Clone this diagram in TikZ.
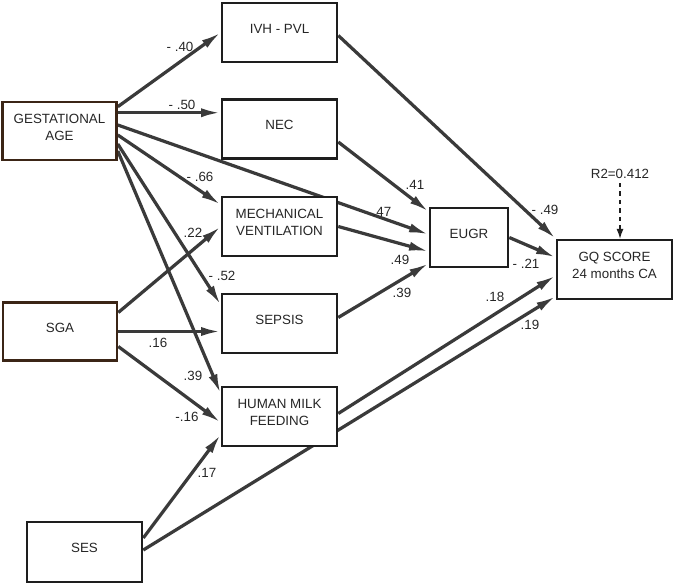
\documentclass[tikz,border=0pt]{standalone}
\usepackage{fontspec}
\setmainfont{Liberation Sans}
\usetikzlibrary{arrows.meta,
        calc,
        backgrounds}
\definecolor{boxline}{HTML}{1E1E1E}
\definecolor{brownline}{HTML}{3B2516}
\definecolor{edgegray}{HTML}{3A3A3A}
\definecolor{textdark}{HTML}{262626}

\begin{document}
\begin{tikzpicture}[x=0.025cm,y=-0.025cm,font=\fontsize{9.5}{12}\selectfont,
    box/.style={draw=boxline,line width=1.8pt,fill=white,text=textdark,align=center,
        minimum width=2.875cm,minimum height=1.475cm,
        execute at end node={\rule[-5.5pt]{0pt}{5.5pt}}},
    brownbox/.style={box,draw=brownline},
    arr/.style={draw=edgegray,line width=2.3pt,-{Latex[length=14pt,width=6.5pt]}},
    lbl/.style={inner sep=0pt,text=textdark}]
            \useasboundingbox (0,0) rectangle (675,585);
            % variables
            \node [brownbox,minimum width=2.85cm,minimum height=1.45cm] (ga) at (59.5,131) {GESTATIONAL\\AGE};
            \node [brownbox,minimum width=2.85cm,minimum height=1.45cm] (sga) at (60,331.5) {SGA};
            \node [box,minimum height=1.5cm] (ses) at (84.5,552) {SES};
            \node [box] (ivh) at (279.5,32.5) {IVH - PVL};
            \node [box] (nec) at (279.5,129) {NEC};
            \node [box] (mv) at (279.5,226.5) {MECHANICAL\\VENTILATION};
            \node [box] (sep) at (279.5,323.5) {SEPSIS};
            \node [box] (hmf) at (279.5,416.5) {HUMAN MILK\\FEEDING};
            \node [box,minimum width=1.95cm] (eugr) at (469,237.5) {EUGR};
            \node [box,execute at end node={}] (gq) at (614.5,269.5) {GQ SCORE\\24 months CA};
            \node [lbl] (r2) at (620,174) {R2=0.412};

            % paths
            \begin{scope}[on background layer]
            \draw [arr] ($(ga.north east)+(0,6)$) -- (ivh.west);
            \draw [arr] ($(ga.north east)+(0,12)$) coordinate (ga2) -- (ga2 -| nec.west);
            \draw [arr] ($(ga.east)+(0,-6)$) -- ($(eugr.west)+(0,-3)$);
            \draw [arr] ($(ga.east)+(0,4)$) -- ($(mv.north west)+(0,9)$);
            \draw [arr] ($(ga.east)+(0,13)$) -- ($(sep.north west)+(0,12)$);
            \draw [arr] ($(ga.east)+(0,20)$) -- ($(hmf.north west)+(0,8)$);
            \draw [arr] ($(sga.east)+(0,-19)$) -- (mv.west);
            \draw [arr] (sga.east) -- (sga.east -| sep.west);
            \draw [arr] ($(sga.east)+(0,15)$) -- ($(hmf.west)+(0,6)$);
            \draw [arr] ($(ses.east)+(0,-14)$) -- ($(hmf.west)+(0,18)$);
            \draw [arr] ($(ses.east)+(0,-2)$) -- ($(gq.south west)+(0,-4)$);
            \draw [arr] ($(hmf.east)+(0,-3)$) -- ($(gq.west)+(0,6)$);
            \draw [arr] (eugr.east) -- ($(gq.west)+(0,-12)$);
            \draw [arr] ($(ivh.east)+(0,3)$) -- (gq.north west);
            \draw [arr] ($(nec.east)+(0,13)$) -- ($(eugr.north west)+(0,5)$);
            \draw [arr] (mv.east) -- ($(eugr.west)+(0,14)$);
            \draw [arr] ($(sep.east)+(0,-6)$) -- ($(eugr.south west)+(0,-5)$);
            \draw [draw=boxline,line width=0.8pt,dashed,-{Latex[length=7pt,width=5pt]}] ($(r2.south)+(0,4)$) -- (r2.south |- gq.north);
            \end{scope}

            % weights
            \node [lbl] (w1) at (180,47) {- .40};
            \node [lbl] (w2) at (182,105) {- .50};
            \node [lbl] (w3) at (200,177) {- .66};
            \node [lbl] (w4) at (193,233) {.22};
            \node [lbl] (w5) at (222,276) {- .52};
            \node [lbl] (w6) at (158,343) {.16};
            \node [lbl] (w7) at (193,376) {.39};
            \node [lbl] (w8) at (187,417) {-.16};
            \node [lbl] (w9) at (207,473) {.17};
            \node [lbl] (w10) at (415,185) {.41};
            \node [lbl] (w11) at (382,212) {.47};
            \node [lbl] (w12) at (400,260) {.49};
            \node [lbl] (w13) at (402,293) {.39};
            \node [lbl] (w14) at (545,210) {- .49};
            \node [lbl] (w15) at (526,264) {- .21};
            \node [lbl] (w16) at (495,297) {.18};
            \node [lbl] (w17) at (530,325) {.19};
        \end{tikzpicture}
\end{document}
